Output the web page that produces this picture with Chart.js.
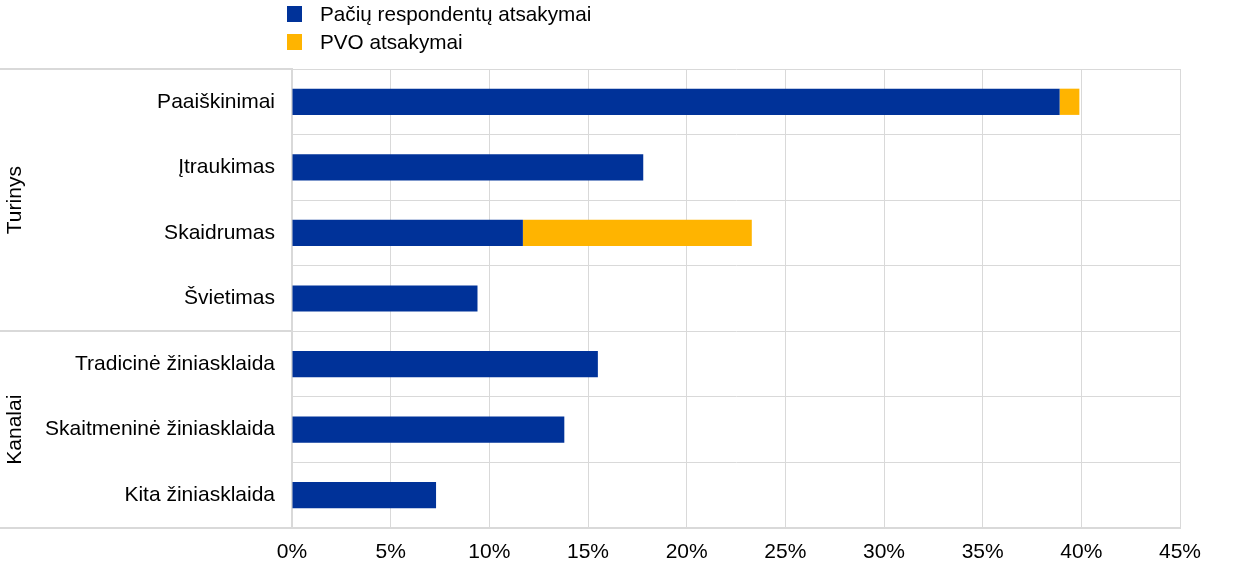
<!DOCTYPE html>
<html>
<head>
    <title>Atsakymai</title>
    <script src="https://cdn.jsdelivr.net/npm/chart.js@4/dist/chart.umd.min.js"></script>
    <style>
        body {
            margin: 0;
            background: white;
            font-family: "Liberation Sans", Arial, sans-serif;
        }
        .wrap {
            position: relative;
            width: 1240px;
            height: 574px;
        }
        .legend {
            position: absolute;
            left: 287px;
            top: 0px;
            font-size: 20.7px;
            color: #000;
        }
        .legend div {
            height: 28px;
            line-height: 28px;
            display: flex;
            align-items: center;
        }
        .legend span.box {
            display: inline-block;
            width: 15px;
            height: 16px;
            margin-right: 18px;
        }
    </style>
</head>
<body>
    <div class="wrap">
        <canvas id="myChart" width="1240" height="574"></canvas>
        <div class="legend" id="legend"></div>
    </div>

    <script>
        const categories = ['Paaiškinimai', 'Įtraukimas', 'Skaidrumas', 'Švietimas',
            'Tradicinė žiniasklaida', 'Skaitmeninė žiniasklaida', 'Kita žiniasklaida'];
        const ownAnswers = [38.9, 17.8, 11.7, 9.4, 15.5, 13.8, 7.3];
        const pvoAnswers = [1.0, 0, 11.6, 0, 0, 0, 0];
        const seriesNames = ['Pačių respondentų atsakymai', 'PVO atsakymai'];
        const groups = [
            { name: 'Turinys', from: 0, to: 3 },
            { name: 'Kanalai', from: 4, to: 6 }
        ];
        const blue = '#003299';
        const orange = '#FFB400';
        const fontFamily = '"Liberation Sans", Arial, sans-serif';

        document.getElementById('legend').innerHTML = seriesNames.map((n, i) =>
            '<div><span class="box" style="background:' + [blue, orange][i] + '"></span>' + n + '</div>'
        ).join('');

        // group labels on the left and separator lines
        const groupPlugin = {
            id: 'groups',
            afterDraw(chart) {
                const ctx = chart.ctx;
                const area = chart.chartArea;
                const step = (area.bottom - area.top) / categories.length;
                ctx.save();
                ctx.strokeStyle = '#d9d9d9';
                ctx.lineWidth = 2;
                const lines = [area.top];
                groups.forEach(g => lines.push(area.top + (g.to + 1) * step));
                lines.forEach(ly => {
                    ctx.beginPath();
                    ctx.moveTo(0, Math.round(ly));
                    ctx.lineTo(area.left, Math.round(ly));
                    ctx.stroke();
                });
                ctx.fillStyle = '#000';
                ctx.font = '21px ' + fontFamily;
                ctx.textAlign = 'center';
                ctx.textBaseline = 'middle';
                groups.forEach(g => {
                    const cy = (area.top + g.from * step + area.top + (g.to + 1) * step) / 2;
                    ctx.save();
                    ctx.translate(15, cy);
                    ctx.rotate(-Math.PI / 2);
                    ctx.fillText(g.name, 0, 0);
                    ctx.restore();
                });
                ctx.restore();
            }
        };

        const ctx = document.getElementById('myChart').getContext('2d');
        new Chart(ctx, {
            type: 'bar',
            data: {
                labels: categories,
                datasets: [{
                    label: seriesNames[0],
                    data: ownAnswers,
                    backgroundColor: blue,
                    categoryPercentage: 0.4,
                    barPercentage: 1.0
                }, {
                    label: seriesNames[1],
                    data: pvoAnswers,
                    backgroundColor: orange,
                    categoryPercentage: 0.4,
                    barPercentage: 1.0
                }]
            },
            options: {
                indexAxis: 'y',
                responsive: false,
                animation: false,
                layout: {
                    padding: { top: 69, right: 60, bottom: 0, left: 0 }
                },
                scales: {
                    x: {
                        stacked: true,
                        min: 0,
                        max: 45,
                        ticks: {
                            stepSize: 5,
                            color: '#000',
                            padding: 12,
                            font: { size: 21, family: fontFamily },
                            callback: v => v + '%'
                        },
                        grid: { color: '#d9d9d9', lineWidth: 1, drawTicks: false },
                        border: { color: '#d9d9d9', width: 2 },
                        afterFit: s => { s.height = 46; }
                    },
                    y: {
                        stacked: true,
                        ticks: {
                            color: '#000',
                            padding: 17,
                            font: { size: 21, family: fontFamily }
                        },
                        grid: { color: '#d9d9d9', lineWidth: 1, drawTicks: false },
                        border: { color: '#d9d9d9', width: 2 },
                        afterFit: s => { s.width = 292; }
                    }
                },
                plugins: {
                    legend: { display: false },
                    tooltip: { enabled: false }
                }
            },
            plugins: [groupPlugin]
        });
    </script>
</body>
</html>
